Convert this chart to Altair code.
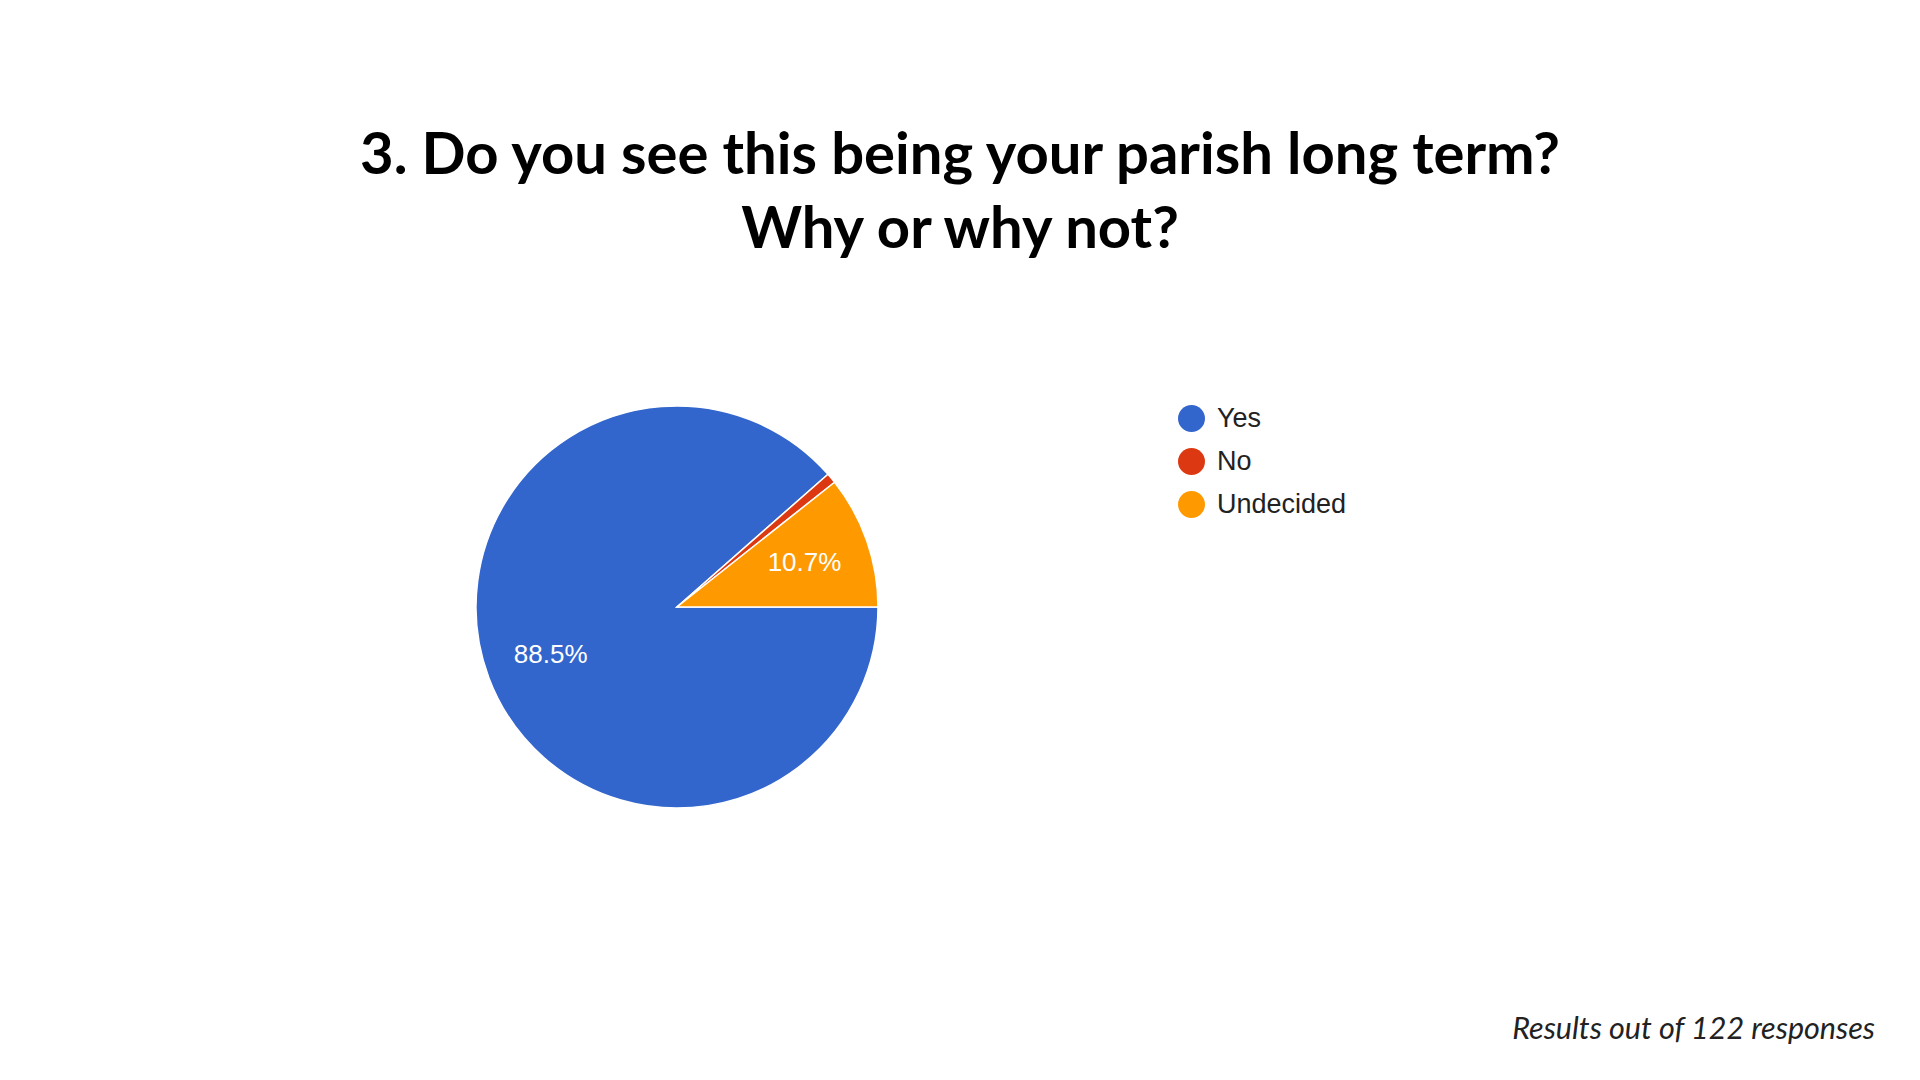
import math
import altair as alt
import pandas as pd

# ---- data ----
categories = ["Yes", "No", "Undecided"]
counts = [108, 1, 13]            # out of 122 responses
percent_labels = ["88.5%", "", "10.7%"]
slice_order = [0, 1, 2]
colors = ["#3366cc", "#dc3912", "#ff9900"]
title_lines = ["3. Do you see this being your parish long term?", "Why or why not?"]
footnote = "Results out of 122 responses"

df = pd.DataFrame({
    "answer": categories,
    "count": counts,
    "label": percent_labels,
    "order": slice_order,
})

CX, CY, R = 669, 599, 201

theta = alt.Theta(
    "count:Q", stack=True,
    scale=alt.Scale(range=[math.pi / 2, math.pi / 2 + 2 * math.pi]),
)

color = alt.Color(
    "answer:N",
    scale=alt.Scale(domain=categories, range=colors),
    legend=alt.Legend(
        title=None, orient="none", legendX=1170, legendY=397,
        symbolType="circle", symbolSize=729, symbolStrokeWidth=0,
        labelFont="Liberation Sans", labelFontSize=27, labelColor="#222222",
        rowPadding=15, labelOffset=12, padding=0,
    ),
)

base = alt.Chart(df).encode(theta=theta, order=alt.Order("order:Q"))

pie = base.mark_arc(outerRadius=R, stroke="white", strokeWidth=1.5).encode(
    color=color, x=alt.value(CX), y=alt.value(CY)
)

labels = base.mark_text(
    radius=135, font="Liberation Sans", fontSize=26, color="white"
).encode(text="label:N", x=alt.value(CX), y=alt.value(CY))

title = alt.Chart(pd.DataFrame({"t": ["\n".join(title_lines)]})).mark_text(
    lineBreak="\n", lineHeight=74, font="Lato", fontWeight="bold",
    fontSize=58, color="#000000", baseline="alphabetic", align="center",
).encode(text="t:N", x=alt.value(952), y=alt.value(166))

foot = alt.Chart(pd.DataFrame({"t": [footnote]})).mark_text(
    font="Lato", fontStyle="italic", fontSize=30.5, color="#222222",
    baseline="alphabetic", align="right",
).encode(text="t:N", x=alt.value(1867), y=alt.value(1031))

chart = alt.layer(pie, labels, title, foot).properties(
    width=1904, height=1064, autosize="none", padding=0, background="white"
).configure_view(stroke=None)

chart.save("out.html", embed_options={"renderer": "svg", "actions": False})
